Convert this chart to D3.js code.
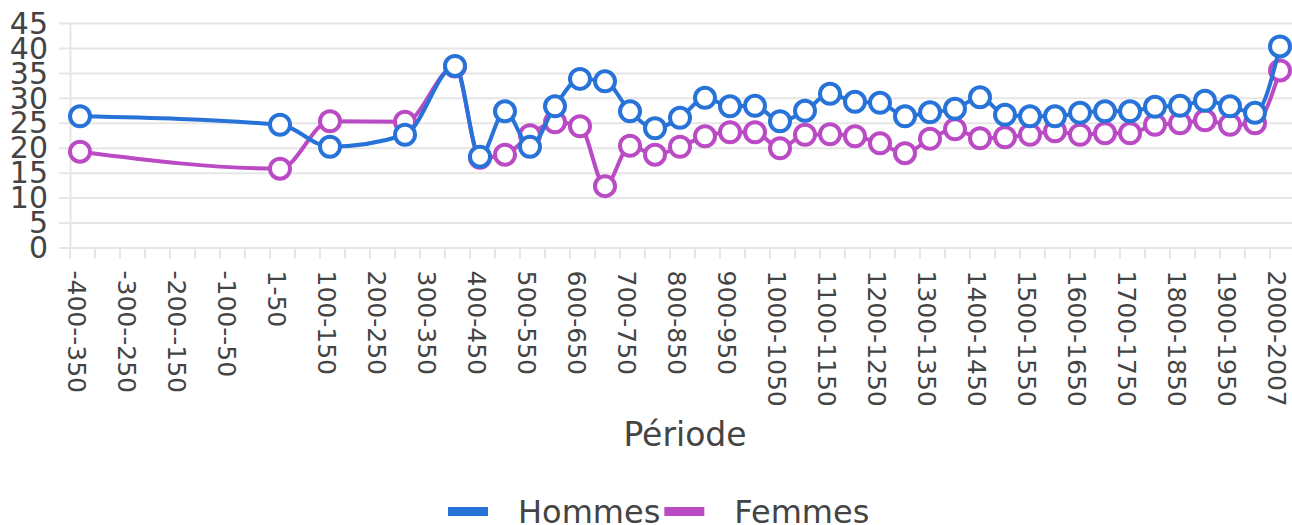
<!DOCTYPE html>
<html>
<head>
<meta charset="utf-8" />
<title>Période - Hommes / Femmes</title>
<style>
body { margin: 0; background: #fff; }
svg { display: block; font-family: "DejaVu Sans", sans-serif; }
</style>
</head>
<body>
<div id="chart"></div>
<script src="https://cdnjs.cloudflare.com/ajax/libs/d3/7.8.5/d3.min.js"></script>
<script>

// périodes de 50 ans (une sur deux est étiquetée)
var periodes = ["-400--350", "-350--300", "-300--250", "-250--200", "-200--150", "-150--100", "-100--50", "-50--1",
    "1-50", "50-100", "100-150", "150-200", "200-250", "250-300", "300-350", "350-400",
    "400-450", "450-500", "500-550", "550-600", "600-650", "650-700", "700-750", "750-800",
    "800-850", "850-900", "900-950", "950-1000", "1000-1050", "1050-1100", "1100-1150", "1150-1200",
    "1200-1250", "1250-1300", "1300-1350", "1350-1400", "1400-1450", "1450-1500", "1500-1550", "1550-1600",
    "1600-1650", "1650-1700", "1700-1750", "1750-1800", "1800-1850", "1850-1900", "1900-1950", "1950-2000",
    "2000-2007"];

var hommes = [26.3, null, null, null, null, null, null, null,
    24.6, null, 20.2, null, null, 22.6, null, 36.4,
    18.2, 27.3, 20.2, 28.3, 33.8, 33.3, 27.3, 23.9,
    26.0, 30.0, 28.3, 28.4, 25.3, 27.4, 30.8, 29.2,
    29.0, 26.3, 27.1, 27.8, 30.1, 26.6, 26.3, 26.3,
    27.0, 27.3, 27.3, 28.2, 28.4, 29.4, 28.3, 27.0,
    40.3];

var femmes = [19.2, null, null, null, null, null, null, null,
    15.8, null, 25.3, null, null, 25.2, null, 36.3,
    18.0, 18.6, 22.5, 25.1, 24.3, 12.3, 20.4, 18.6,
    20.2, 22.3, 23.1, 23.1, 19.9, 22.6, 22.7, 22.3,
    20.9, 18.9, 21.8, 23.7, 21.9, 22.1, 22.6, 23.3,
    22.6, 22.9, 22.9, 24.6, 24.9, 25.5, 24.6, 24.9,
    35.5];

var yTicks = [0, 5, 10, 15, 20, 25, 30, 35, 40, 45];

var series = [
    { name: "Hommes", values: hommes, color: "#2773d8" },
    { name: "Femmes", values: femmes, color: "#bb4bc5" }
];

var width = 1292, height = 525;
var textColor = "#444";
var gridColor = "#e6e6e6";

var svg = d3.select("#chart").append("svg")
    .attr("width", width)
    .attr("height", height);

var x = d3.scaleBand()
    .domain(periodes)
    .range([67.5, 1292.5])
    .paddingInner(0.2)
    .paddingOuter(0.1);

var y = d3.scaleLinear()
    .domain([0, 45])
    .range([247.5, 23]);

// axe Y + grille
var yAxis = svg.append("g")
    .attr("transform", "translate(70,0)")
    .call(d3.axisLeft(y).tickValues(yTicks).tickSizeInner(-(1292 - 70)).tickSizeOuter(0).tickPadding(22));

yAxis.select(".domain").attr("stroke", gridColor).attr("stroke-width", 2);
yAxis.selectAll(".tick line")
    .attr("x1", -11)
    .attr("stroke", gridColor)
    .attr("stroke-width", 2);
yAxis.selectAll(".tick text")
    .attr("fill", textColor)
    .attr("dy", "0.34em")
    .style("font-size", "30px")
    .style("font-family", "DejaVu Sans");

// axe X : graduations au début de chaque période
var xAxis = svg.append("g")
    .attr("transform", "translate(" + (-x.bandwidth() / 2) + "," + y(0) + ")")
    .call(d3.axisBottom(x).tickSize(11)
        .tickFormat(function(d, i) { return i % 2 === 0 ? d : ""; }));

xAxis.select(".domain").remove();
xAxis.selectAll(".tick line")
    .attr("stroke", gridColor)
    .attr("stroke-width", 2);
xAxis.selectAll(".tick text")
    .attr("transform", "rotate(90)")
    .attr("x", 23)
    .attr("y", 0)
    .attr("dy", "0.08em")
    .attr("fill", textColor)
    .style("text-anchor", "start")
    .style("font-size", "25px")
    .style("font-family", "DejaVu Sans");

svg.append("text")
    .attr("x", 685)
    .attr("y", 446)
    .attr("text-anchor", "middle")
    .attr("fill", textColor)
    .style("font-size", "33px")
    .text("Période");

// courbes
var line = d3.line()
    .x(function(d) { return x(d.p) + x.bandwidth() / 2; })
    .y(function(d) { return y(d.v); })
    .curve(d3.curveMonotoneX);

// les femmes d'abord, les hommes passent au-dessus
series.slice().reverse().forEach(function(s) {
    var pts = periodes.map(function(p, i) { return { p: p, v: s.values[i] }; })
        .filter(function(d) { return d.v != null; });

    var g = svg.append("g");
    g.append("path")
        .datum(pts)
        .attr("d", line)
        .attr("fill", "none")
        .attr("stroke", s.color)
        .attr("stroke-width", 4)
        .attr("stroke-linejoin", "round");

    g.selectAll("circle")
        .data(pts)
        .enter().append("circle")
        .attr("cx", function(d) { return x(d.p) + x.bandwidth() / 2; })
        .attr("cy", function(d) { return y(d.v); })
        .attr("r", 10)
        .attr("fill", "#fff")
        .attr("stroke", s.color)
        .attr("stroke-width", 4);
});

// légende
var legend = svg.append("g");
var lx = 448;
series.forEach(function(s) {
    legend.append("rect")
        .attr("x", lx)
        .attr("y", 507)
        .attr("width", 40)
        .attr("height", 9)
        .attr("fill", s.color);
    var t = legend.append("text")
        .attr("x", lx + 70)
        .attr("y", 523)
        .attr("fill", textColor)
        .style("font-size", "32px")
        .text(s.name);
    lx = lx + 70 + t.node().getComputedTextLength() + 4;
});

</script>
</body>
</html>
